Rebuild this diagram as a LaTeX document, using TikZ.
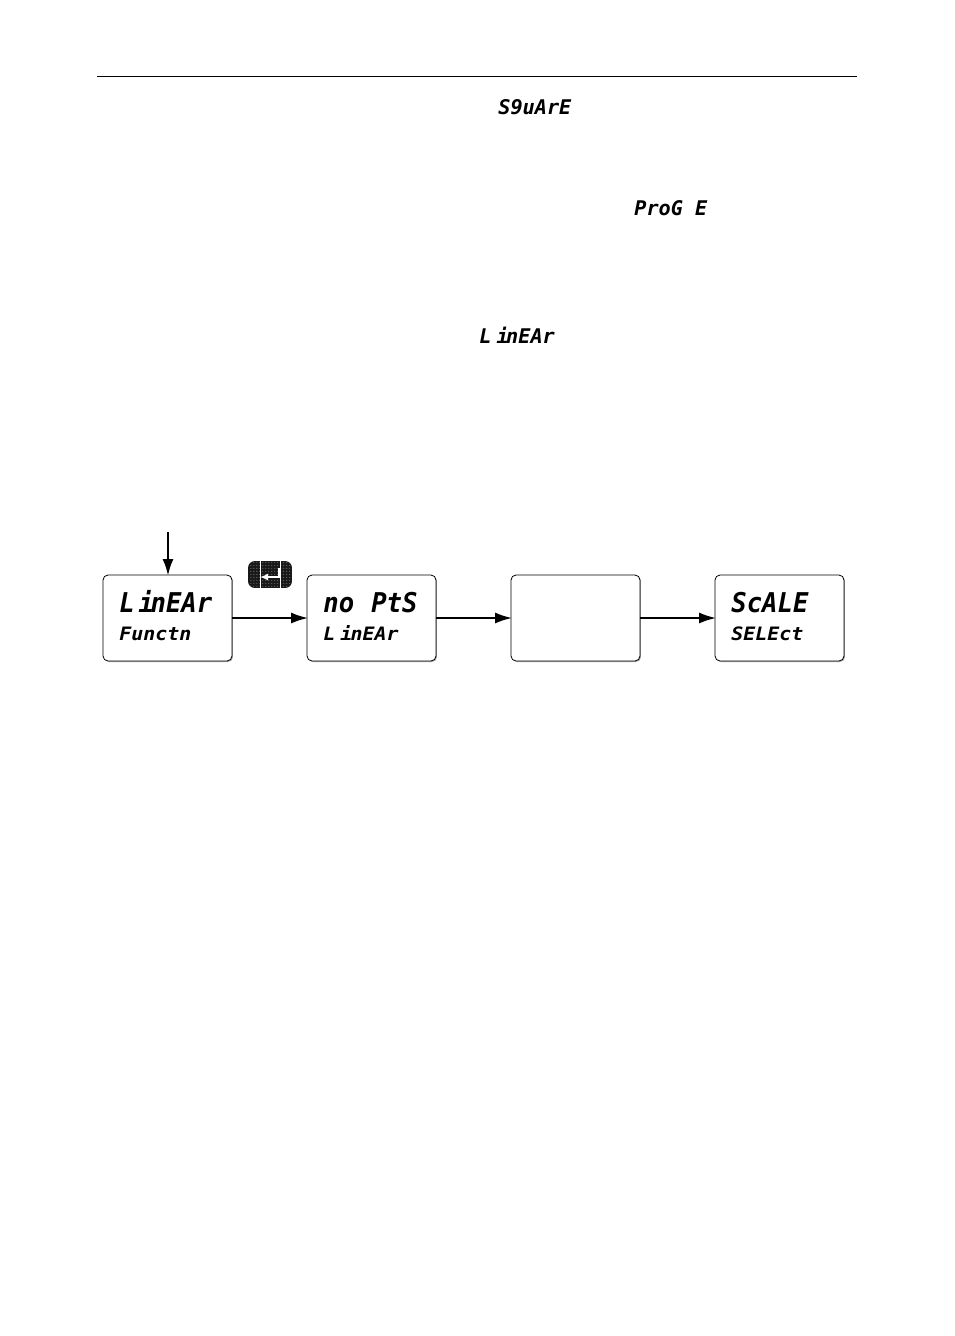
\documentclass[tikz,border=0pt]{standalone}
\usepackage{xcolor}
\usepackage{fontspec}
\usetikzlibrary{arrows,arrows.meta}
\usetikzlibrary{patterns.meta}
\usetikzlibrary{shadows}
\tikzset{>={Latex[length=0.34cm,width=0.22cm]}}
\newfontfamily\segbigfont[FakeStretch=0.94]{DejaVu Sans Mono}
\newfontfamily\segsmallfont[FakeStretch=1.08]{DejaVu Sans Mono}
\newfontfamily\seginlinefont[FakeStretch=1.0]{DejaVu Sans Mono}
\newcommand{\segbig}{\segbigfont\bfseries\itshape\fontsize{15.5}{18}\selectfont}
\newcommand{\segsmall}{\segsmallfont\bfseries\itshape\fontsize{10.5}{13}\selectfont}
\newcommand{\seginline}{\seginlinefont\bfseries\itshape\fontsize{11.5}{13}\selectfont}
\tikzset{
  panel/.style={draw,fill=white,rounded corners=0.1cm,line width=0.45pt,minimum width=2.58cm,minimum height=1.72cm,
    drop shadow={shadow xshift=0.02cm,shadow yshift=-0.02cm,fill=black!35,opacity=1}},
  flow/.style={->,line width=1.1pt,shorten >=-0.03cm},
  bigseg/.style={inner sep=0pt,anchor=base west,font=\segbig},
  smallseg/.style={inner sep=0pt,anchor=base west,font=\segsmall},
  inlineseg/.style={inner sep=0pt,anchor=base west,font=\seginline},
}
\colorlet{keygrey}{black!90}

\begin{document}
\begin{tikzpicture}[x=0.02cm,y=-0.02cm]
  \useasboundingbox (0,0) rectangle (954,1336);

  % RULE
  \coordinate (ruleL) at (97,76);
  \coordinate (ruleR) at (857,76);
  \draw[line width=0.45pt] (ruleL) -- (ruleR);

  % WORDS IN THE TEXT
  \node[inlineseg] (square) at (498,114) {S9uArE};
  \node[inlineseg] (progE) at (634,215) {ProG E};
  \node[inlineseg] (linear) at (479,343) {L\hspace{-4pt} i\hspace{-1.5pt}nEAr};

  % PANELS
  \node[panel] (funct) at (167.5,618) {};
  \node[panel] (nopts) at (371.5,618) {};
  \node[panel] (blank) at (575.5,618) {};
  \node[panel] (scale) at (779.5,618) {};

  % PANEL TEXTS
  \node[bigseg] (functA) at (119,612) {L\hspace{-6.5pt} i\hspace{-2pt}nEAr};
  \node[smallseg] (functB) at (119,640) {Functn};
  \node[bigseg] (noptsA) at (323,612) {no\hspace{1pt} PtS};
  \node[smallseg] (noptsB) at (323,640) {L\hspace{-4pt} i\hspace{-1pt}nEAr};
  \node[bigseg] (scaleA) at (731,612) {ScALE};
  \node[smallseg] (scaleB) at (731,640) {SELEct};

  % ARROWS
  \coordinate (start) at (168,532);
  \draw[flow,line width=1.6pt] (start) -- (funct.north -| start);
  \draw[flow] (funct) -- (nopts);
  \draw[flow] (nopts) -- (blank);
  \draw[flow] (blank) -- (scale);

  % ENTER KEY
  \node[draw=keygrey,fill=keygrey,rounded corners=0.12cm,minimum width=0.86cm,minimum height=0.52cm,inner sep=0pt,
    postaction={pattern={Dots[distance=1.7pt,radius=0.3pt]},pattern color=black!50}] (enter) at (270,574.5) {};
  \draw[white,line width=0.45pt] (260,561) -- (260,588);
  \draw[white,line width=0.45pt] (280,561) -- (280,588);
  \draw[white,line width=1pt,-{Latex[length=0.16cm,width=0.14cm]}] (279,568) -- (279,577) -- (260,577);
\end{tikzpicture}
\end{document}
